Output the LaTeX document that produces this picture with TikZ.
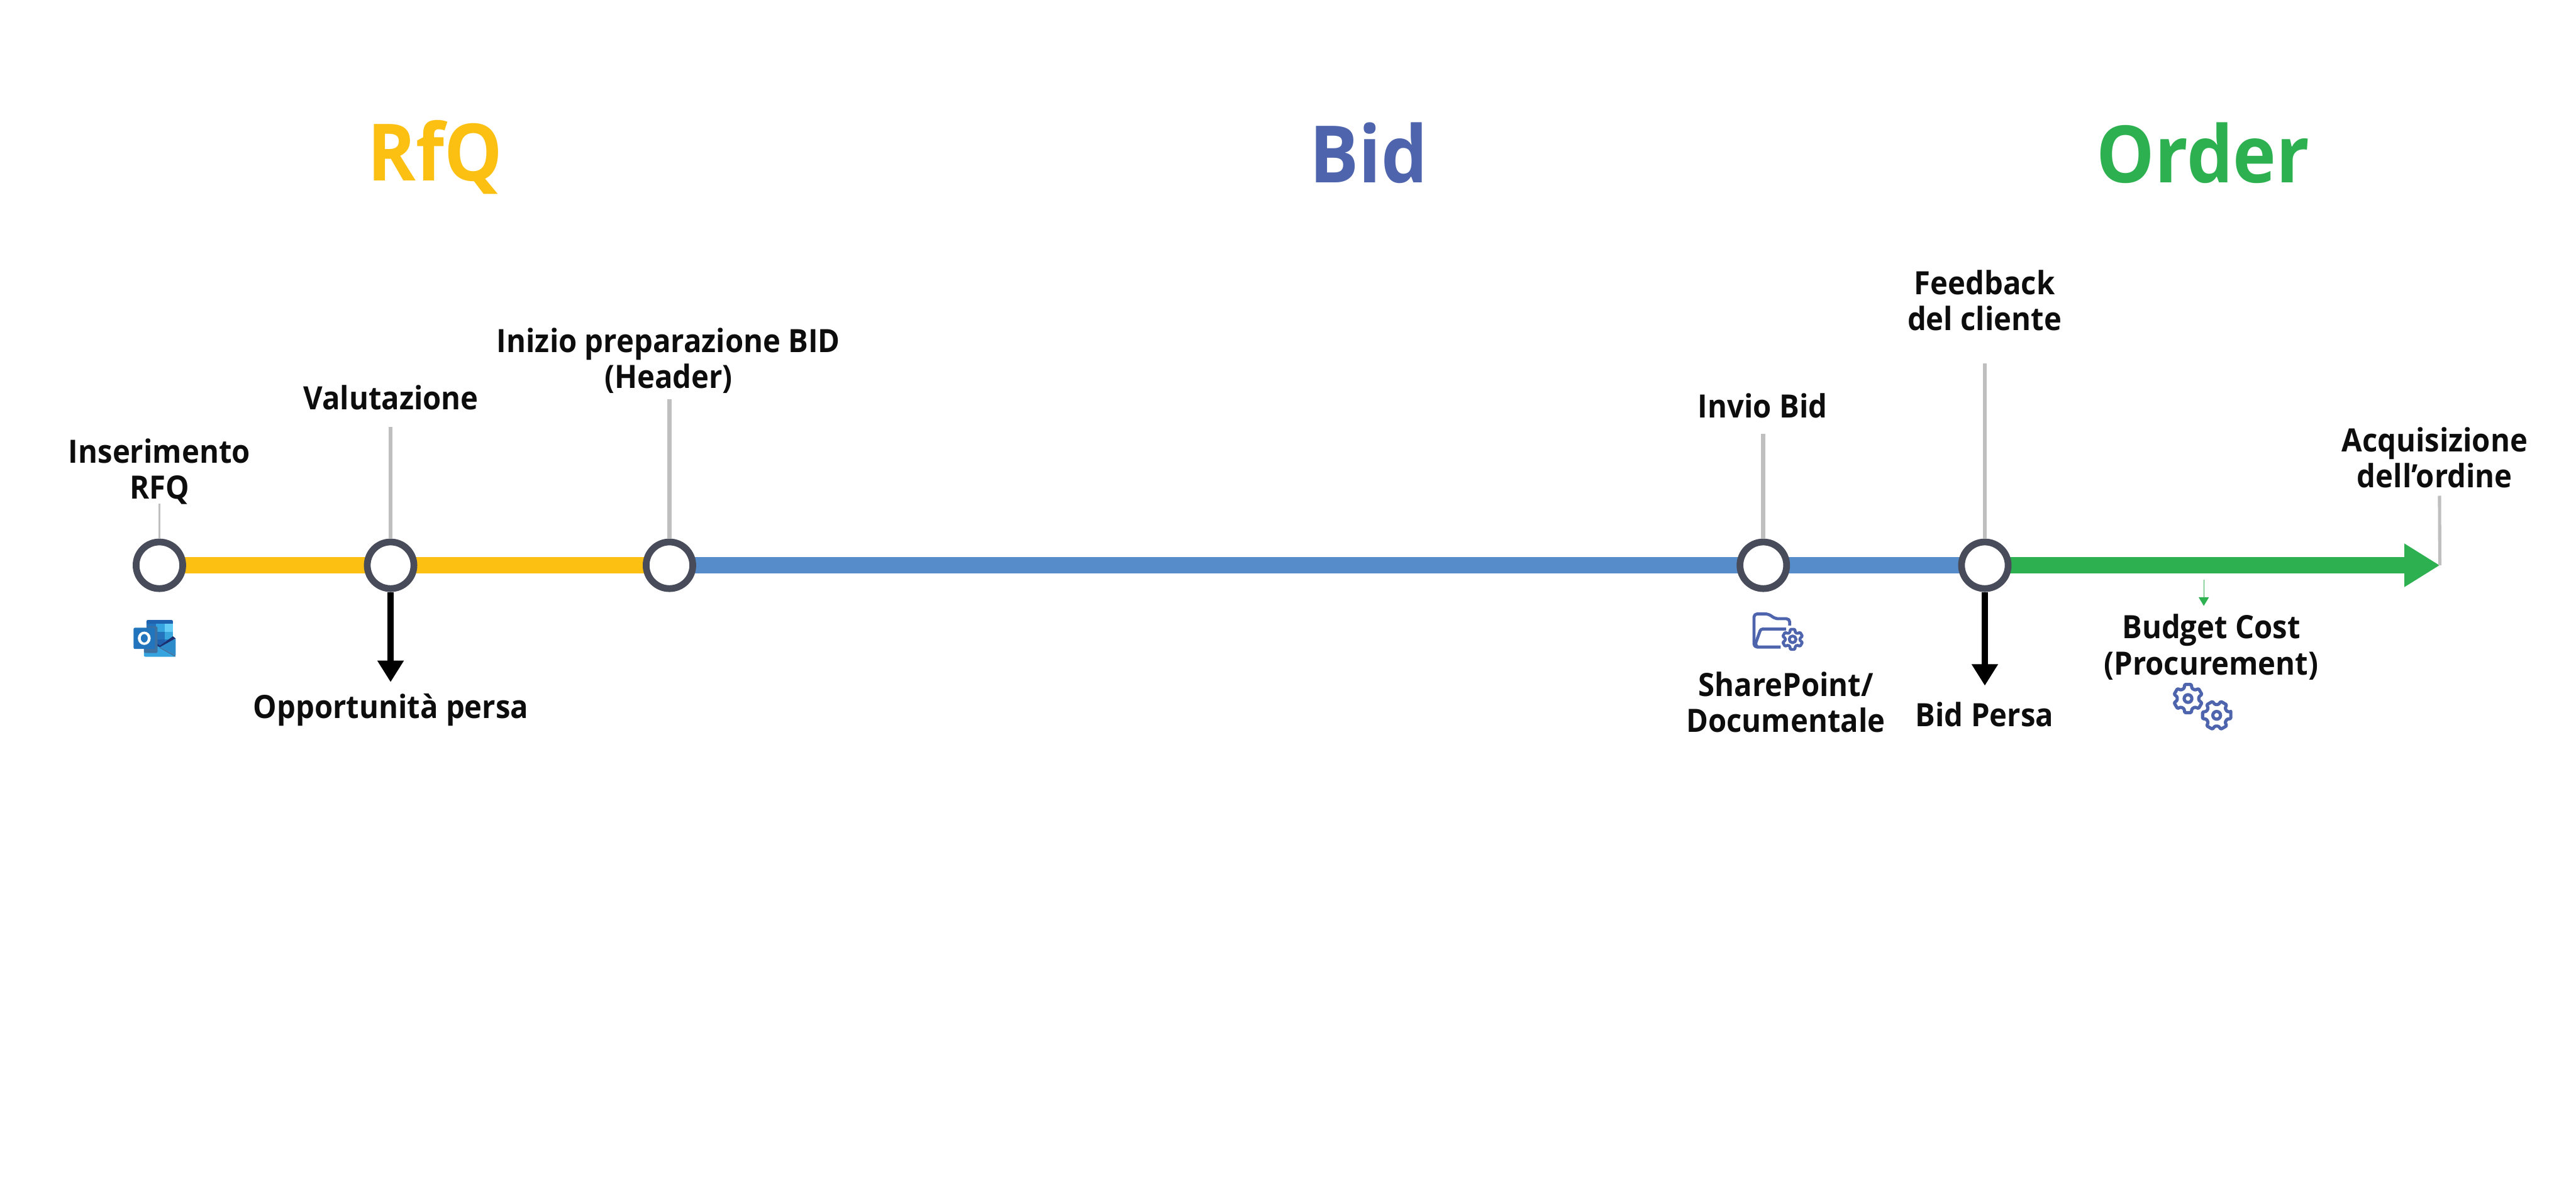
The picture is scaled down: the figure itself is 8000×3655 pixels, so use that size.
\documentclass[tikz,border=0pt]{standalone}
\usepackage{fontspec}
\setmainfont{Open Sans}[FakeStretch=0.925]
\usetikzlibrary{arrows.meta,backgrounds}
\definecolor{rfqyellow}{HTML}{FBC012}
\definecolor{bidblue}{HTML}{558CC9}
\definecolor{ordergreen}{HTML}{2DB050}
\definecolor{ringgrey}{HTML}{484C5A}
\definecolor{stemgrey}{HTML}{BFBFBF}
\definecolor{iconblue}{HTML}{4E65AE}
\tikzset{
	milestone/.style={circle, draw=ringgrey, fill=white, line width=0.105cm, minimum size=0.725cm, inner sep=0},
	label/.style={align=center, inner sep=0, font=\bfseries\fontsize{14.2}{15.9}\selectfont, text=black!95},
	phase/.style={inner sep=0, font=\bfseries\fontsize{35}{40}\selectfont},
	bar/.style={line width=0.255cm},
	stem/.style={color=stemgrey, line width=0.065cm},
	lost/.style={line width=0.1cm, -{Triangle[length=0.335cm,width=0.39cm]}},
	iconline/.style={color=iconblue, line width=0.047cm, line join=round}
}
% centre, turn, outer radius, valley radius, hub radius, line width
\def\gearicon(#1,#2)(#3:#4:#5:#6)(#7){
	\draw[iconline, line width=#7, rounded corners=0.012cm] ([shift={(#1,#2)}]#3-13:#4)
		\foreach \a in {0,60,...,300} {
			-- ([shift={(#1,#2)}]#3+\a-13:#4) -- ([shift={(#1,#2)}]#3+\a+13:#4) -- ([shift={(#1,#2)}]#3+\a+21:#5) -- ([shift={(#1,#2)}]#3+\a+39:#5)
		} -- cycle;
	\draw[iconline, line width=#7] (#1,#2) circle (#6);
}
\begin{document}
\begin{tikzpicture}[x=0.005cm, y=-0.005cm]
	\useasboundingbox (0,0) rectangle (8000,3655);
	%%%%% PHASES %%%%%
	\node[phase, color=rfqyellow] (rfq) at (1352,488) {RfQ};
	\node[phase, color=iconblue] (bid) at (4250,475) {Bid};
	\node[phase, color=ordergreen] (order) at (6842,475) {Order};

	%%%%% TIMELINE %%%%%
	\node[milestone] (insert) at (495,1756) {};
	\node[milestone] (rate) at (1213,1756) {};
	\node[milestone] (start) at (2079,1756) {};
	\node[milestone] (send) at (5476,1756) {};
	\node[milestone] (answer) at (6164,1756) {};
	\coordinate (tip) at (7577,1756);

	\begin{pgfonlayer}{background}
		\draw[bar, color=rfqyellow] (insert.center) -- (start.center);
		\draw[bar, color=bidblue] (start.center) -- (answer.center);
		\draw[bar, color=ordergreen, -{Triangle[length=0.55cm,width=0.635cm]}] (answer.center) -- (tip);
	\end{pgfonlayer}

	%%%%% LABELS ABOVE %%%%%
	\node[label] (insertlabel) at (495,1465) {Inserimento\\RFQ};
	\node[label] (ratelabel) at (1214,1235) {Valutazione};
	\node[label] (startlabel) at (2076,1120) {Inizio preparazione BID\\(Header)};
	\node[label] (sendlabel) at (5474,1260) {Invio Bid};
	\node[label] (answerlabel) at (6163,934) {Feedback\\del cliente};
	\node[label] (winlabel) at (7561,1421) {Acquisizione\\dell’ordine};

	\coordinate (insertstem) at (495,1564);
	\coordinate (ratestem) at (1213,1326);
	\coordinate (startstem) at (2079,1240);
	\coordinate (sendstem) at (5476,1347);
	\coordinate (answerstem) at (6164,1128);
	\coordinate (winstem) at (7576,1540);

	\draw[stem, line width=0.035cm] (insertstem) -- (insert);
	\draw[stem] (ratestem) -- (rate);
	\draw[stem] (startstem) -- (start);
	\draw[stem] (sendstem) -- (send);
	\draw[stem] (answerstem) -- (answer);
	\draw[stem, line width=0.05cm] (winstem) -- (tip);

	%%%%% BELOW %%%%%
	\coordinate (lostrate) at (1213,2119);
	\coordinate (lostbid) at (6164,2130);
	\draw[lost] (rate) -- (lostrate);
	\draw[lost] (answer) -- (lostbid);
	\coordinate (budgettop) at (6844,1801);
	\coordinate (budgettip) at (6844,1882);
	\draw[color=ordergreen, line width=0.01cm, -{Triangle[length=0.135cm,width=0.16cm]}] (budgettop) -- (budgettip);

	\node[label] (ratelost) at (1214,2206) {Opportunità persa};
	\node[label] (docs) at (5546,2182) {SharePoint/\\Documentale};
	\node[label] (bidlost) at (6163,2219) {Bid Persa};
	\node[label] (budget) at (6867,2010) {Budget Cost\\(Procurement)};

	%%%%% OUTLOOK %%%%%
	\fill[color={rgb,255:red,31;green,99;blue,176}, rounded corners=0.02cm] (455,1926) rectangle (537,1945);
	\fill[color={rgb,255:red,34;green,114;blue,188}] (455,1938) rectangle (485,1990);
	\fill[color={rgb,255:red,54;green,165;blue,223}] (485,1938) rectangle (512,1962);
	\fill[color={rgb,255:red,101;green,205;blue,245}] (512,1938) rectangle (537,1962);
	\fill[color={rgb,255:red,35;green,115;blue,189}] (485,1962) rectangle (512,1987);
	\fill[color={rgb,255:red,57;green,166;blue,222}] (512,1962) rectangle (537,1987);
	\fill[color={rgb,255:red,31;green,97;blue,174}] (485,1987) rectangle (512,2012);
	\fill[color={rgb,255:red,34;green,114;blue,188}] (512,1987) rectangle (537,2012);
	\fill[color={rgb,255:red,30;green,47;blue,112}] (537,1976.5) -- (545.7,1983.3) -- (496.7,2011) -- (455,1990) -- (470,1985) -- (496.7,2006) -- cycle;
	\fill[color={rgb,255:red,54;green,165;blue,223}, rounded corners=0.02cm] (447,1996) -- (496.7,2010) -- (545.7,2040) -- (447,2040) -- cycle;
	\fill[color={rgb,255:red,46;green,139;blue,202}, rounded corners=0.01cm] (496.7,2010.5) -- (545.7,1983.3) -- (545.7,2037) -- cycle;
	\fill[color={rgb,255:red,62;green,112;blue,160}] (496.7,2010.5) -- (545.7,2037) -- (544,2040) -- (494,2012) -- cycle;
	\fill[color={rgb,255:red,62;green,112;blue,160}, rounded corners=0.02cm] (447,1990) rectangle (489,2028);
	\fill[color={rgb,255:red,62;green,112;blue,160}, rounded corners=0.02cm] (455,1946) rectangle (489,2028);
	\fill[color={rgb,255:red,34;green,116;blue,189}, rounded corners=0.02cm] (415,1950) rectangle (481,2016);
	\fill[color=white, even odd rule] (448,1982.7) ellipse (20 and 20.7) (448,1982.7) ellipse (11 and 13.3);

	%%%%% FOLDER %%%%%
	\draw[iconline, rounded corners=0.05cm] (5558,1943) -- (5558,1922) -- (5513,1922) -- (5492,1907) -- (5447,1907) -- (5447,2010) -- (5530,2010);
	\draw[iconline, rounded corners=0.03cm] (5547,1954) -- (5468,1954) -- (5451,2002) -- (5458,2010);
	\gearicon(5567,1986)(90:32:23:10.5)(0.045cm)

	%%%%% GEARS %%%%%
	\gearicon(6795,2170)(90:45:34:12)(0.05cm)
	\gearicon(6884,2222)(0:45:34:12)(0.05cm)
\end{tikzpicture}
\end{document}
